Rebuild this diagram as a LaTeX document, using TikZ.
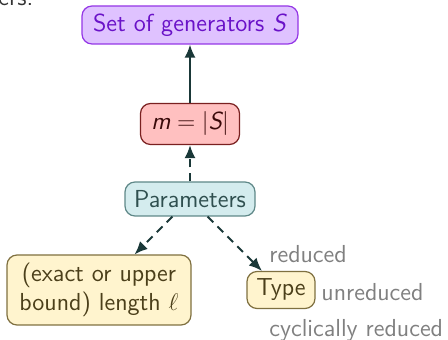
\documentclass[tikz,border=0pt]{standalone}
\usetikzlibrary{arrows.meta}
\renewcommand{\familydefault}{\sfdefault}
\definecolor{genfill}{HTML}{DFC2FF}
\definecolor{gendraw}{HTML}{9436E6}
\definecolor{gentext}{HTML}{6A12C8}
\definecolor{mfill}{HTML}{FFC0C0}
\definecolor{mdraw}{HTML}{7A2020}
\definecolor{mtext}{HTML}{3A0A0A}
\definecolor{pfill}{HTML}{D4ECEE}
\definecolor{pdraw}{HTML}{5F8888}
\definecolor{ptext}{HTML}{2F4F4F}
\definecolor{yfill}{HTML}{FFF4CE}
\definecolor{ydraw}{HTML}{7F7040}
\definecolor{ytext}{HTML}{4B3F1A}
\definecolor{linkcol}{HTML}{1A3838}
\definecolor{opttext}{HTML}{808080}
\begin{document}
\begin{tikzpicture}[x=0.5pt,y=-0.5pt,
  every node/.style={font=\fontsize{12.3}{14.2}\selectfont},
  box/.style={rounded corners=5pt,line width=0.6pt,inner sep=3pt},
  genbox/.style={box,fill=genfill,draw=gendraw,text=gentext,minimum width=108pt,minimum height=19pt},
  mbox/.style={box,fill=mfill,draw=mdraw,text=mtext,minimum width=49.5pt,minimum height=20.5pt},
  parbox/.style={box,fill=pfill,draw=pdraw,text=ptext,minimum width=65pt,minimum height=17pt},
  ybox/.style={box,fill=yfill,draw=ydraw,text=ytext},
  optlabel/.style={text=opttext,inner sep=0pt},
  link/.style={draw=linkcol,line width=1pt,-{Latex[length=6.5pt,width=5.5pt]}},
  dlink/.style={link,dash pattern=on 4pt off 3pt}]
\useasboundingbox (0,0) rectangle (448,340);
% tail of the sentence above the diagram
\node[anchor=base west,inner sep=0pt,text=black!80] (prev) at (-2,6) {ers.};
% nodes
\node[genbox] (gen) at (190,25) {Set of generators \textit{S}};
\node[mbox] (m) at (190,124) {$\textsf{\itshape m} = |\textsf{\itshape S}|$};
\node[parbox] (par) at (190,199) {Parameters};
\node[ybox,align=center,minimum width=92pt,minimum height=35pt] (len) at (99,290)
  {(exact or upper\\bound) length $\ell$};
\node[ybox,minimum width=34pt,minimum height=18.5pt,inner sep=2pt] (type) at (281,290) {Type};
% the possible types
\node[optlabel,anchor=west] (red) at (269,254) {reduced};
\node[optlabel,anchor=west] (unred) at (321,292) {unreduced};
\node[optlabel,anchor=west] (cyc) at (269,330) {cyclically reduced};
% connectors
\draw[link] (m) -- (gen);
\draw[dlink] (par) -- (m);
\draw[dlink] (par) -- (len);
\draw[dlink] (par) -- (type);
\end{tikzpicture}
\end{document}
